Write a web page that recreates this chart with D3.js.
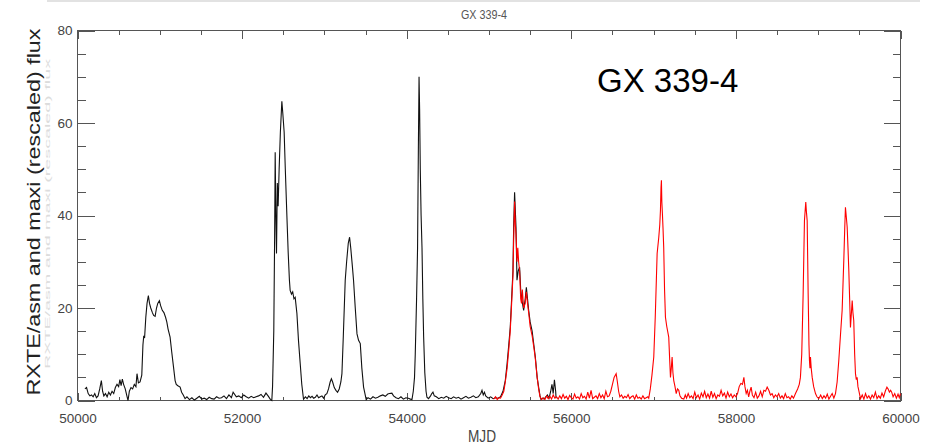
<!DOCTYPE html>
<html><head><meta charset="utf-8">
<script src="https://cdn.jsdelivr.net/npm/d3@7"></script>
<style>html,body{margin:0;padding:0;background:#fff;overflow:hidden;} svg{display:block;}</style>
</head><body>
<svg id="c" width="928" height="444"></svg>
<script>
// ---------- DATA ----------
const chartTitle = "GX 339-4";
const annotation = "GX 339-4";
const xLabel = "MJD";
const yLabel = "RXTE/asm and maxi (rescaled) flux";
const xMajorTicks = [50000, 52000, 54000, 56000, 58000, 60000];
const xTickLabels = ["50000", "52000", "54000", "56000", "58000", "60000"];
const yMajorTicks = [0, 20, 40, 60, 80];
const yTickLabels = ["0", "20", "40", "60", "80"];

// RXTE/ASM light curve (black)
const asmMjd = [50090,50110,50130,50150,50170,50190,50210,50230,50250,50270,50290,50305,50320,50340,50360,50380,50400,50420,50440,50460,50480,50500,50515,50530,50545,50560,50580,50600,50614,50630,50650,50670,50690,50710,50723,50740,50760,50781,50795,50805,50815,50830,50845,50861,50875,50890,50910,50925,50943,50960,50975,50995,51010,51030,51050,51070,51085,51100,51125,51145,51165,51186,51200,51220,51247,51265,51285,51307,
51330,51360,51390,51420,51450,51480,51510,51540,51570,51600,51630,51660,51690,51720,51750,51780,51810,51840,51870,51891,51930,51960,51990,52020,52050,52080,52110,52140,52170,52200,52230,52260,52290,52320,52345,52361,
52370,52385,52395,52402,52410,52418,52428,52438,52450,52465,52483,52495,52511,52525,52544,52560,52575,52584,52600,52615,52630,52645,52666,52685,52706,52725,52746,
52770,52790,52810,52830,52850,52870,52890,52910,52930,52950,52970,52990,53010,53030,53050,53070,53085,53100,53120,53140,53160,53180,53200,53213,53230,53253,53270,53290,53306,53320,53340,53354,53375,53396,53415,53436,53455,53476,53508,
53530,53560,53590,53620,53650,53680,53710,53740,53770,53790,53820,53840,53870,53900,53930,53960,53990,54020,54045,54064,
54080,54095,54104,54120,54132,54142,54150,54157,54165,54175,54186,54196,54206,54220,54235,54246,54265,54290,54305,54319,54335,
54360,54390,54420,54450,54480,54510,54540,54570,54600,54630,54660,54690,54720,54750,54780,54810,54840,54870,54900,54915,54930,54945,54960,54990,55020,55050,55080,55110,55140,55170,
55198,55220,55240,55258,55275,55291,55300,55311,55320,55328,55340,55355,55372,55385,55401,55421,55440,55454,55468,55482,55500,55524,55545,55563,55585,55603,55620,55632,55650,55670,55690,55710,55730,55750,55765,55780,55795,55810,55815];
const asmFlux = [2.5,2.8,1.5,1.0,1.2,0.8,1.5,0.6,1.0,2.5,4.3,2.0,1.0,1.5,0.8,1.8,1.2,2.0,1.5,2.8,3.5,3.0,4.5,3.2,4.6,3.5,2.5,1.0,0.0,2.0,2.8,2.5,3.5,3.0,5.8,3.8,4.0,5.5,12,14,13.5,18,21,22.7,21,20,19,18.4,18.2,20,21,21.6,20.5,19.5,19,18,17,15.5,13.7,10.5,7.5,4.3,3.5,3.2,2.9,1.8,1.2,0.4,
0.8,0.2,0.6,0.1,0.5,0.9,0.3,0.5,0.2,0.7,0.4,0.3,0.8,0.5,0.6,1.0,0.4,1.2,0.6,1.8,0.8,1.0,0.6,1.2,0.8,0.5,0.9,0.6,0.8,1.0,1.3,0.7,1.6,0.9,0.2,0.0,
3,15,35,53.7,40,31.8,47,42,50,58,64.7,62,58,50,40,32,26,23.8,23,23.5,22,22.3,18.8,13,8,3.5,0.3,
0.8,0.4,1.0,0.6,0.9,0.5,0.7,1.2,0.6,0.8,1.0,0.5,1.2,1.5,2.5,4.0,4.7,4.0,2.8,2.2,1.8,2.5,4.0,5.8,14,26,30,34,35.3,33,29,26,20,14.4,13,12.3,7,2.9,0.2,
0.6,0.3,0.8,0.5,0.7,1.0,1.2,0.9,1.4,1.5,1.6,1.0,0.6,0.4,0.8,0.3,0.6,0.5,0.3,0.2,
2,5,10,22,33,55,70,63,50,40,33,22,13.7,6,2,0.7,0.4,1.0,1.5,1.8,1.0,
0.8,0.4,0.7,0.5,0.9,0.6,0.4,0.8,0.5,0.7,0.3,0.6,0.9,0.5,0.7,1.0,0.6,0.8,1.5,2.2,1.2,1.8,1.0,0.5,0.8,0.4,0.6,0.5,0.8,2.0,
4.3,8,12,15.8,22,28,38,45,41,37.5,26,28,28.8,24,21.6,19.5,22,24.5,22,19.5,17,15,12,9.4,5,2.9,1.0,0.2,0.5,0.3,0.8,1.2,0.5,2.0,3.5,1.5,4.5,2.0,0.5];

// MAXI light curve, rescaled (red)
const maxiMjd = [55056,55080,55100,55120,55140,55160,55180,55198,55220,55240,55258,55275,55291,55300,55311,55320,55328,55340,55350,55360,55372,55385,55395,55405,55421,55440,55454,55468,55482,55500,55524,55545,55563,55585,55603,55620,55640,
55660,55680,55700,55720,55740,55760,55780,55800,55820,55840,55860,55880,55900,55920,55940,55960,55980,56000,56020,56040,56060,56080,56100,56120,56140,56160,56180,56200,56220,56240,56260,56280,56300,56320,56340,56360,56380,56400,56420,56440,56460,56480,56500,56520,56545,56560,56575,56590,56610,56630,56650,56670,56690,56710,56730,56750,56770,56790,56810,56830,56850,56870,56890,56910,56930,56941,
56960,56980,57002,57020,57035,57043,57063,57075,57083,57090,57095,57100,57107,57115,57123,57133,57144,57160,57184,57195,57205,57215,57225,57235,57245,57260,57275,57290,57306,57320,57340,57367,
57385,57400,57420,57440,57460,57480,57500,57520,57540,57560,57580,57600,57620,57640,57660,57680,57700,57720,57740,57760,57780,57800,57820,57840,57860,57880,57900,57920,57940,57960,57980,58000,58020,58040,58060,58080,58097,58110,58125,58140,58155,58170,58185,58200,58220,58240,58260,58280,58300,58320,58340,58360,58380,58400,58420,58440,58460,58480,58500,58520,58540,58560,58580,58600,58620,58640,58660,58680,58700,
58724,58750,58770,58784,58800,58817,58833,58849,58856,58866,58878,58888,58894,58900,58906,58915,58927,58945,58967,58985,59007,59030,59050,59070,59090,59110,59130,59150,59170,59190,
59210,59230,59250,59270,59291,59311,59322,59331,59340,59352,59362,59372,59382,59392,59400,59413,59422,59432,59443,59453,59463,59473,59483,59493,59514,59535,59555,59575,59595,59615,59635,59655,59675,59695,59715,59735,59755,59775,59795,59815,59835,59850,59865,59880,59893,59910,59930,59950,59970,59985,60000];
const maxiFlux = [0.3,0.8,0.2,0.6,0.5,1.2,2.0,4.0,7,11,15,21,27,35,43,38,36,30,33,30,28,22,21,24,20,21,23.5,21,19,16,14,11.5,9,5,2.5,0.8,0.2,
0.6,0.2,1.0,0.4,0.9,0.3,1.2,0.5,0.8,0.3,1.0,0.4,1.3,0.5,0.9,0.2,1.1,0.6,0.3,1.4,0.5,0.8,0.3,1.5,0.6,0.9,0.3,1.8,0.5,2.2,0.4,0.7,1.0,0.4,1.5,0.6,1.2,0.4,2.0,0.8,1.0,2.0,3.5,5.0,5.8,4.0,2.0,0.8,1.2,0.5,0.9,0.6,1.3,0.4,0.8,1.0,0.3,1.2,0.5,0.7,0.3,1.0,0.4,0.6,0.8,0.5,
2.5,5.5,9.4,18,27,31.8,35.3,38,41,46,47.6,43,40.4,37,33,24,18,16,13.7,9,5,7,9.4,6,4.3,3.0,1.5,2.5,2.2,1.0,0.5,0.3,
1.2,0.5,1.5,0.6,1.0,0.4,1.8,0.6,1.2,0.3,1.6,0.8,2.0,0.6,1.4,0.5,2.0,0.7,1.5,0.4,1.2,0.9,2.2,1.0,1.6,0.5,1.8,0.8,1.4,0.6,1.2,0.8,1.5,3.0,3.7,3.5,5.0,3.0,1.5,2.2,0.8,2.0,2.9,1.2,0.6,1.8,0.5,1.0,2.0,0.8,2.2,2.0,2.9,2.2,1.2,1.5,0.6,1.2,0.8,1.5,0.5,1.0,0.4,1.5,0.6,0.8,0.3,1.0,0.5,
1.5,2.5,3.5,5.0,10,23,38.9,42.9,41,38.9,23,12,8.6,7,9.4,7,5.0,3.0,1.5,0.8,0.4,1.2,0.4,1.0,0.5,1.4,0.3,0.9,1.5,0.5,
1.5,4,8.6,14,19.5,30.3,37,41.8,40,37.5,33,28.1,22,15.8,18,21.6,19,17.3,10,5.8,4.5,5.0,3,2.2,0.4,1.2,0.3,1.5,0.5,1.0,0.3,1.2,0.6,1.8,0.4,1.0,0.5,1.6,0.8,2.0,2.9,2.5,1.8,2.2,1.8,0.8,1.5,0.5,1.4,0.6,1.5];

// ---------- CHART ----------
const svg = d3.select("#c");
const font = "'Liberation Sans', Arial, Helvetica, sans-serif";
const axisColor = "#555";
const textColor = "#444";

const x = d3.scaleLinear().domain([50000, 60000]).range([77.5, 900.5]);
const y = d3.scaleLinear().domain([0, 80]).range([400.5, 30.5]);

// faint top rule
svg.append("line").attr("x1", 47).attr("x2", 920).attr("y1", 1).attr("y2", 1)
  .attr("stroke", "#e2e2e2").attr("stroke-width", 2);

// title
svg.append("text").attr("x", 484).attr("y", 19).attr("text-anchor", "middle")
  .attr("font-family", font).attr("font-size", 13).attr("fill", "#555")
  .attr("textLength", 46).attr("lengthAdjust", "spacingAndGlyphs")
  .text(chartTitle);

// axes
function styleAxis(g) {
  g.select(".domain").remove();
  g.selectAll(".tick line").attr("stroke", axisColor).attr("shape-rendering", "crispEdges");
  g.selectAll(".tick text").attr("font-family", font).attr("font-size", 13.5).attr("fill", textColor);
}
const xMinor = d3.range(50000, 60001, 500);
const yMinor = d3.range(0, 81, 5);

svg.append("g").attr("transform", `translate(0,${y(0)})`)
  .call(d3.axisBottom(x).tickValues(xMinor).tickSize(-4).tickFormat("")).call(styleAxis);
svg.append("g").attr("transform", `translate(0,${y(0)})`)
  .call(d3.axisBottom(x).tickValues(xMajorTicks).tickSize(-8).tickPadding(13)
    .tickFormat((d, i) => xTickLabels[i])).call(styleAxis);
svg.append("g").attr("transform", `translate(0,${y(80)})`)
  .call(d3.axisTop(x).tickValues(xMinor).tickSize(-4).tickFormat("")).call(styleAxis);
svg.append("g").attr("transform", `translate(0,${y(80)})`)
  .call(d3.axisTop(x).tickValues(xMajorTicks).tickSize(-8).tickFormat("")).call(styleAxis);

svg.append("g").attr("transform", `translate(${x(50000)},0)`)
  .call(d3.axisLeft(y).tickValues(yMinor).tickSize(-8).tickFormat("")).call(styleAxis);
svg.append("g").attr("transform", `translate(${x(50000)},0)`)
  .call(d3.axisLeft(y).tickValues(yMajorTicks).tickSize(-17).tickPadding(5)
    .tickFormat((d, i) => yTickLabels[i])).call(styleAxis);
svg.append("g").attr("transform", `translate(${x(60000)},0)`)
  .call(d3.axisRight(y).tickValues(yMinor).tickSize(-8).tickFormat("")).call(styleAxis);
svg.append("g").attr("transform", `translate(${x(60000)},0)`)
  .call(d3.axisRight(y).tickValues(yMajorTicks).tickSize(-17).tickFormat("")).call(styleAxis);

// frame
svg.append("rect").attr("x", x(50000)).attr("y", y(80))
  .attr("width", x(60000) - x(50000)).attr("height", y(0) - y(80))
  .attr("fill", "none").attr("stroke", axisColor).attr("stroke-width", 1)
  .attr("shape-rendering", "crispEdges");

// lines
const line = d3.line().x(d => x(d[0])).y(d => y(d[1]));
const asmData = asmMjd.map((m, i) => [m, asmFlux[i]]);
const maxiData = maxiMjd.map((m, i) => [m, maxiFlux[i]]);
svg.append("path").datum(asmData).attr("d", line)
  .attr("fill", "none").attr("stroke", "#111").attr("stroke-width", 1.1);
svg.append("path").datum(maxiData).attr("d", line)
  .attr("fill", "none").attr("stroke", "#ff0000").attr("stroke-width", 1.1);

// axis titles
svg.append("text").attr("x", 482).attr("y", 442).attr("text-anchor", "middle")
  .attr("font-family", font).attr("font-size", 16).attr("fill", textColor)
  .attr("textLength", 28).attr("lengthAdjust", "spacingAndGlyphs")
  .text(xLabel);

// faint ghost of the y label
svg.append("text").attr("transform", "translate(50,214) rotate(-90)")
  .attr("text-anchor", "middle").attr("font-family", font).attr("font-size", 7)
  .attr("fill", "#dcdcdc").attr("textLength", 310).attr("lengthAdjust", "spacingAndGlyphs")
  .text(yLabel);

svg.append("text").attr("transform", "translate(40,212) rotate(-90)")
  .attr("text-anchor", "middle").attr("font-family", font).attr("font-size", 19)
  .attr("fill", "#222").attr("textLength", 367).attr("lengthAdjust", "spacingAndGlyphs")
  .text(yLabel);

// big annotation
svg.append("text").attr("x", 597).attr("y", 92)
  .attr("font-family", font).attr("font-size", 33).attr("fill", "#000")
  .text(annotation);
</script>
</body></html>
